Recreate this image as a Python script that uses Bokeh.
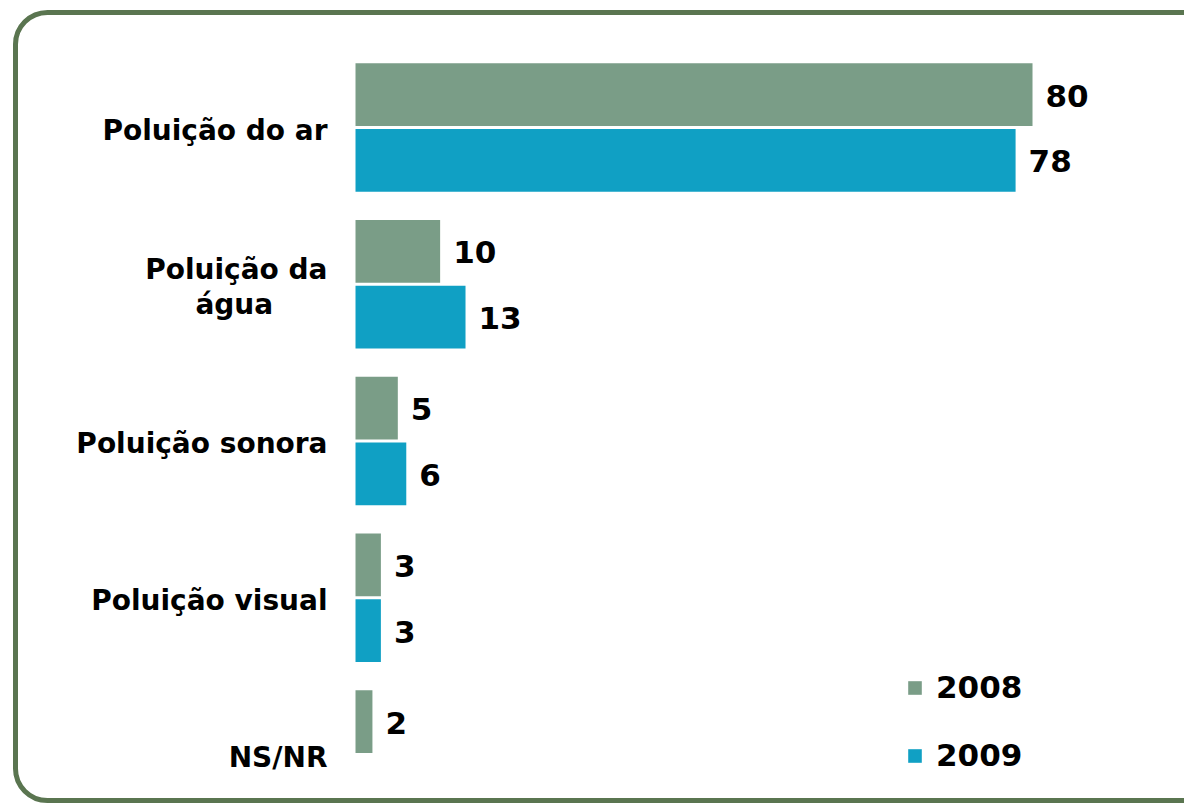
from bokeh.plotting import figure
from bokeh.models import ColumnDataSource, Range1d, BoxAnnotation, Legend, LegendItem
from bokeh.core.properties import value
from bokeh.embed import file_html
from bokeh.resources import INLINE

PAD = "\u00a0" * 5 + "\u2009"
categories = ["Poluição do ar", "Poluição da\nágua" + PAD, "Poluição sonora",
              "Poluição visual", "NS/NR"]
v2008 = [80, 10, 5, 3, 2]
v2009 = [78, 13, 6, 3, None]
series_names = ["2008", "2009"]
colors = ["#7a9d87", "#10a0c4"]

FONT = value("DejaVu Sans")

p = figure(width=1184, height=804, output_backend="svg", toolbar_location=None,
           x_range=Range1d(-41.95, 97.96), y_range=Range1d(4.319, -0.810),
           min_border=0, x_axis_location=None, y_axis_location=None)
p.grid.visible = False
p.outline_line_color = None
p.background_fill_color = "white"
p.border_fill_color = "white"

# rounded frame
p.add_layout(BoxAnnotation(left=-40.18, right=130, top=-0.734, bottom=4.294,
                           fill_alpha=0, line_color="#5a7550", line_alpha=1.0,
                           line_width=5, border_radius=32, level="underlay"))

idx = list(range(len(categories)))
offsets = [-0.21, 0.21]
renderers = []
for vals, off, col, name in zip([v2008, v2009], offsets, colors, series_names):
    ys = [i + off for i, v in zip(idx, vals) if v is not None]
    xs = [v for v in vals if v is not None]
    src = ColumnDataSource(dict(y=ys, right=xs, label=[str(v) for v in xs]))
    r = p.hbar(y="y", right="right", left=0, height=0.4, source=src,
               fill_color=col, line_color=None)
    renderers.append((name, r))
    p.text(x="right", y="y", text="label", source=src, x_offset=13, y_offset=1,
           text_font=FONT, text_font_style="bold", text_font_size="31px",
           text_align="left", text_baseline="middle", text_color="black")

cat_src = ColumnDataSource(dict(y=idx, x=[0] * len(idx), text=categories))
p.text(x="x", y="y", text="text", source=cat_src, x_offset=-28, y_offset=3,
       text_font=FONT, text_font_style="bold", text_font_size="28px",
       text_align="right", text_baseline="middle", text_color="black",
       text_line_height=1.07)

legend = Legend(items=[LegendItem(label=n, renderers=[r]) for n, r in renderers],
                location=(906, 31), orientation="vertical",
                glyph_width=17, glyph_height=17, label_standoff=13,
                label_text_font="DejaVu Sans", label_text_font_style="bold",
                label_text_font_size="31px", label_text_color="black",
                spacing=32, padding=0, margin=0,
                border_line_color=None, background_fill_alpha=0)
p.add_layout(legend, "center")

open("out.html", "w").write(file_html(p, INLINE))
